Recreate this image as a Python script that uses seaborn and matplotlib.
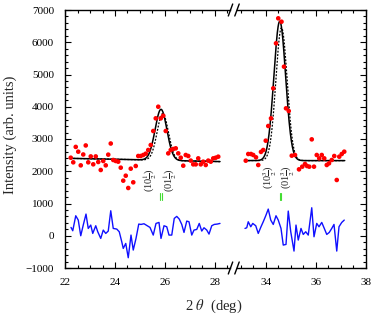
import numpy as np
import pandas as pd
import matplotlib
matplotlib.use("Agg")
import matplotlib.pyplot as plt
import seaborn as sns
from matplotlib.ticker import MultipleLocator

sns.set_theme(style="ticks")
plt.rcParams['font.family'] = ['Liberation Serif', 'DejaVu Serif']
plt.rcParams['mathtext.fontset'] = 'stix'

# ---------------- data ----------------
obs_x_left = [22.23, 22.33, 22.43, 22.53, 22.63, 22.73, 22.83, 22.93, 23.03, 23.13,
              23.23, 23.33, 23.43, 23.53, 23.63, 23.73, 23.83, 23.93, 24.03, 24.13,
              24.23, 24.33, 24.43, 24.53, 24.63, 24.73, 24.83, 24.93, 25.03, 25.13,
              25.23, 25.33, 25.43, 25.53, 25.63, 25.73, 25.83, 25.93, 26.03, 26.13,
              26.23, 26.33, 26.43, 26.53, 26.63, 26.73, 26.83, 26.93, 27.03, 27.13,
              27.23, 27.33, 27.43, 27.53, 27.63, 27.73, 27.83, 27.93, 28.03, 28.13]
obs_y_left = [2420, 2277, 2755, 2607, 2183, 2520, 2800, 2277, 2460, 2215,
              2460, 2287, 2039, 2318, 2183, 2515, 2860, 2349, 2318, 2297,
              2111, 1708, 1862, 1481, 2080, 1657, 2163, 2473, 2473, 2504,
              2545, 2659, 2814, 3248, 3641, 4001, 3641, 3722, 3248, 2555,
              2659, 2690, 2711, 2555, 2420, 2173, 2504, 2473, 2330, 2214,
              2214, 2400, 2214, 2297, 2194, 2330, 2297, 2400, 2420, 2452]

obs_x_right = [33.19, 33.29, 33.40, 33.49, 33.60, 33.69, 33.80, 33.89, 33.99, 34.09,
               34.20, 34.29, 34.40, 34.49, 34.62, 34.72, 34.80, 34.91, 35.03, 35.16,
               35.32, 35.45, 35.56, 35.64, 35.73, 35.83, 35.92, 36.03, 36.13, 36.23,
               36.33, 36.43, 36.52, 36.63, 36.73, 36.83, 36.93, 37.03, 37.13]
obs_y_right = [2328, 2535, 2535, 2504, 2432, 2194, 2600, 2659, 2948, 3403,
               3641, 4571, 5967, 6742, 6637, 5243, 3951, 3868, 2483, 2504,
               2059, 2142, 2225, 2163, 2142, 2989, 2142, 2504, 2400, 2504,
               2400, 2194, 2245, 2349, 2473, 1729, 2452, 2535, 2607]

diff_x_left = [22.24, 22.31, 22.43, 22.53, 22.63, 22.73, 22.84, 22.93, 23.03, 23.11,
               23.23, 23.31, 23.43, 23.53, 23.63, 23.73, 23.83, 23.93, 24.07, 24.17,
               24.27, 24.33, 24.43, 24.53, 24.64, 24.73, 24.84, 24.95, 25.04, 25.16,
               25.29, 25.40, 25.53, 25.64, 25.76, 25.84, 25.96, 26.07, 26.16, 26.27,
               26.37, 26.47, 26.57, 26.67, 26.76, 26.87, 26.96, 27.07, 27.16, 27.27,
               27.37, 27.47, 27.56, 27.67, 27.76, 27.87, 27.97, 28.09, 28.20]
diff_y_left = [258, 155, 620, 486, 0, 331, 672, 227, 331, 72,
               310, 124, -83, 176, 72, 145, 775, 227, 207, 124,
               -186, -393, -238, -682, 21, -444, -83, 362, 351, 372,
               310, 258, 21, 382, 413, -83, 310, 279, 21, 21,
               537, 600, 517, 351, 103, 455, 434, 21, 176, 196,
               382, 145, 248, 176, 52, 310, 351, 362, 382]

diff_x_right = [33.16, 33.23, 33.29, 33.39, 33.47, 33.59, 33.69, 33.80, 33.89, 33.99,
                34.09, 34.19, 34.29, 34.40, 34.49, 34.60, 34.69, 34.80, 34.89, 34.99,
                35.12, 35.20, 35.29, 35.40, 35.49, 35.59, 35.69, 35.83, 35.92, 36.03,
                36.12, 36.23, 36.32, 36.43, 36.53, 36.63, 36.72, 36.83, 36.92, 37.03,
                37.13]
diff_y_right = [227, 248, 434, 279, 382, 310, 72, 279, 434, 620,
                827, 486, 351, 620, 486, 227, -289, -269, 765, 124,
                -475, 331, -134, 227, 41, 124, 21, 868, -31, 382,
                279, 413, 248, 41, 103, 227, 351, -475, 279, 413,
                486]

# fitted model parameters (centre, height above background, sigma)
fit_range_left = [22.2, 28.2]
fit_range_right = [33.15, 37.15]
bg_left = [2400, 2300]
bg_right = [2330, 2330]
peak_left_solid = [25.84, 1580, 0.235]
peak_left_dashed = [25.91, 1450, 0.225]
peak_right_solid = [34.55, 4320, 0.235]
peak_right_dashed = [34.62, 4120, 0.225]

bragg_x_left = [25.80, 25.89]
bragg_x_right = [34.555, 34.61]
bragg_y = [1100, 1330]

labels_left = [r"(10$\frac{1}{2}$)", r"(01$\frac{1}{2}$)"]
labels_left_x = [25.40, 26.22]
labels_right = [r"(10$\frac{3}{2}$)", r"(01$\frac{3}{2}$)"]
labels_right_x = [34.17, 34.89]
labels_left_y = 1720
labels_right_y = 1830


def model(rng, bg, peak):
    x = np.linspace(rng[0], rng[1], 400)
    b = bg[0] + (bg[1] - bg[0]) * (x - rng[0]) / (rng[1] - rng[0])
    y = b + peak[1] * np.exp(-(x - peak[0]) ** 2 / (2 * peak[2] ** 2))
    return pd.DataFrame({"x": x, "y": y})


W, H = 374, 318
fig = plt.figure(figsize=(W / 100, H / 100), dpi=100)
y0 = 1 - 268 / H
hh = (268 - 10) / H
axL = fig.add_axes([65 / W, y0, (230.5 - 65) / W, hh])
axR = fig.add_axes([237 / W, y0, (366 - 237) / W, hh])

red = "#ff0000"
blue = "#1010ff"
green = "#44dd33"

for ax, ox, oy, dx, dy, rng, bg, ps, pd_, bx, labs, lx, ly in [
    (axL, obs_x_left, obs_y_left, diff_x_left, diff_y_left, fit_range_left, bg_left,
     peak_left_solid, peak_left_dashed, bragg_x_left, labels_left, labels_left_x, labels_left_y),
    (axR, obs_x_right, obs_y_right, diff_x_right, diff_y_right, fit_range_right, bg_right,
     peak_right_solid, peak_right_dashed, bragg_x_right, labels_right, labels_right_x, labels_right_y),
]:
    sol = model(rng, bg, ps)
    das = model(rng, bg, pd_)
    sns.lineplot(data=das, x="x", y="y", ax=ax, color="black", lw=0.9,
                 linestyle=(0, (1.5, 1.2)), sort=False)
    sns.lineplot(data=sol, x="x", y="y", ax=ax, color="black", lw=1.1, sort=False)
    sns.scatterplot(x=ox, y=oy, ax=ax, color=red, s=11, edgecolor="none", zorder=5)
    sns.lineplot(x=dx, y=dy, ax=ax, color=blue, lw=1.0, sort=False)
    for b in bx:
        ax.plot([b, b], bragg_y, color=green, lw=0.8)
    for t, x in zip(labs, lx):
        ax.text(x, ly, t, rotation=90, ha="center", va="center", fontsize=7.5,
                color="#222222")
    ax.set_ylim(-1000, 7000)
    ax.yaxis.set_major_locator(MultipleLocator(1000))
    ax.yaxis.set_minor_locator(MultipleLocator(200))
    ax.xaxis.set_major_locator(MultipleLocator(2))
    ax.xaxis.set_minor_locator(MultipleLocator(0.5))
    ax.set_xlabel("")
    ax.set_ylabel("")
    ax.grid(False)
    for s in ax.spines.values():
        s.set_linewidth(1.0)
        s.set_color("black")

axL.set_xlim(22, 28.62)
axR.set_xlim(32.84, 38)
axL.spines["right"].set_visible(False)
axR.spines["left"].set_visible(False)

common = dict(which="both", direction="in", colors="black", labelsize=8, width=0.8)
axL.tick_params(top=True, bottom=True, left=True, right=False, **common)
axR.tick_params(top=True, bottom=True, left=False, right=True, labelleft=False,
                labelright=False, **common)
for ax in (axL, axR):
    ax.tick_params(which="major", length=4)
    ax.tick_params(which="minor", length=2.2)
    ax.tick_params(axis="y", pad=8)
    ax.tick_params(axis="x", pad=7)

# break marks
for ax, xe, wpx in [(axL, 1.0, 165.5), (axR, 0.0, 129)]:
    ddx = 2.2 / wpx
    ddy = 6 / 258
    for ye in (0.0, 1.0):
        ax.plot([xe - ddx, xe + ddx], [ye - ddy, ye + ddy], transform=ax.transAxes,
                color="black", lw=1.0, clip_on=False)

fig.text(10 / W, 1 - 135 / H, "Intensity (arb. units)", rotation=90,
         ha="center", va="center", fontsize=10.5)
fig.text(214 / W, 1 - 306 / H, r"2 $\theta$  (deg)", ha="center", va="center",
         fontsize=10.5)

fig.savefig("out.png", dpi=100, facecolor="white")
